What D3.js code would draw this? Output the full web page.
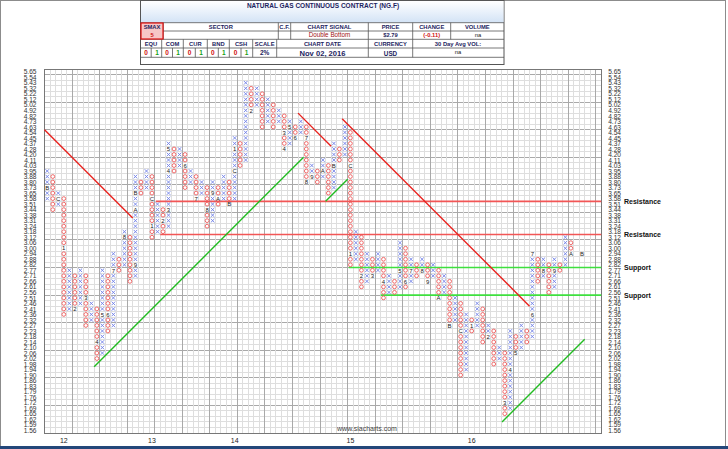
<!DOCTYPE html>
<html><head><meta charset="utf-8">
<script src="https://cdn.jsdelivr.net/npm/d3@7"></script>
<style>body{margin:0;background:#fff;} svg{display:block;font-family:"Liberation Sans",Arial,sans-serif;}</style>
</head><body><svg id="c" width="728" height="449"></svg>
<script>
// ---- data ----
const priceLabels = ["1.56","1.59","1.62","1.65","1.69","1.72","1.76","1.79","1.83","1.86","1.90","1.94","1.98","2.02","2.06","2.10","2.14","2.18","2.23","2.27","2.32","2.36","2.41","2.46","2.51","2.56","2.61","2.66","2.71","2.77","2.82","2.88","2.94","3.00","3.06","3.12","3.18","3.24","3.31","3.38","3.44","3.51","3.58","3.65","3.73","3.80","3.88","3.95","4.03","4.11","4.20","4.28","4.37","4.45","4.54","4.63","4.73","4.82","4.92","5.02","5.12","5.22","5.32","5.43","5.54","5.65"];
const colTypes = "XOXOXOXOXOXOXOXOXOXOXOXOXOXOXOXOXOXOXOXOXOXOXOXOXOXOXOXOXOXOXOXOXOXOXOXOXOXOXOXOXOXOXOXOXOXOXOXO".split("");
const colLow  = [42,40,41,21,22,22,23,19,20,13, 14,18,19,29,30,27,28,43,44,35, 36,36,37,47,48,44,45,42,43,37, 38,41,42,41,42,48,49,58,59,55, 56,55,56,51,52,53,54,45,46,45, 46,43,44,49,50,30,31,26,27,28, 29,24,25,25,26,26,27,28,29,27, 28,24,25,19,20,10,11,18,19,16, 17,12,13,3,4,14,15,16,17,27, 28,25,26,29,30,32,33,30];
const colHigh = [47,46,43,42,29,28,29,28,23,22, 29,28,32,31,36,35,46,45,47,46, 41,40,52,51,51,50,47,46,45,44, 45,44,46,45,53,52,63,62,62,61, 60,59,58,57,56,55,56,55,48,47, 49,48,52,51,55,54,36,35,32,31, 32,31,28,27,34,33,31,30,31,30, 30,29,28,27,24,23,21,20,23,22, 19,18,15,14,18,17,19,18,32,31, 31,30,31,30,35,34,41,40];
const monthMarks = [[0,44,"B"],[2,42,"C"],[3,33,"1"],[5,22,"2"],[7,24,"3"],[9,16,"4"],[10,21,"5"],[11,21,"6"],[12,29,"7"],[14,35,"8"],[16,30,"9"],[16,40,"A"],[16,43,"B"],[19,42,"C"],[19,37,"1"],[21,38,"2"],[22,40,"3"],[22,47,"4"],[22,51,"5"],[25,48,"6"],[27,42,"7"],[29,40,"8"],[30,43,"9"],[31,42,"A"],[33,41,"B"],[34,47,"C"],[34,51,"1"],[37,58,"2"],[43,54,"3"],[43,51,"4"],[44,55,"5"],[45,53,"6"],[47,53,"7"],[47,45,"8"],[48,46,"9"],[50,47,"A"],[52,48,"B"],[55,48,"C"],[55,32,"1"],[57,28,"2"],[59,28,"3"],[61,27,"4"],[64,29,"5"],[65,27,"6"],[66,29,"7"],[68,29,"8"],[69,27,"9"],[71,24,"A"],[73,19,"B"],[75,18,"C"],[77,19,"1"],[80,17,"2"],[83,5,"3"],[84,11,"4"],[85,14,"5"],[88,21,"6"],[88,32,"7"],[90,29,"8"],[92,29,"9"],[95,32,"A"],[97,32,"B"]];
const yearLabels = [[3,"12"],[19,"13"],[34,"14"],[55,"15"],[77,"16"]];
const trendLines = [[0,55,16,39,"red"],[9,12,47,50,"green"],[46,58,52,52,"red"],[51,42,55,46,"green"],[54,57,88,23,"red"],[83,2,98,17,"green"]];
const levelLines = [[42,20.2,"red","Resistance"],[36,21,"red","Resistance"],[30,55.2,"green","Support"],[25,61,"green","Support"]];

// ---- layout ----
const W=728,H=449, NC=101, NR=66;
const svg=d3.select("#c");
const x=d3.scaleLinear().domain([0,NC]).range([44.5,601.2]);
const y=d3.scaleLinear().domain([0,NR]).range([433,69]);

// frame
svg.append("rect").attr("x",0.5).attr("y",0.5).attr("width",725).attr("height",446).attr("fill","#fff").attr("stroke","#8c8c8c");
svg.append("rect").attr("x",0).attr("y",446).attr("width",W).attr("height",3).attr("fill","#23477a");

// grid
const g=svg.append("g");
d3.range(0,NR+1).forEach(r=>{
  g.append("line").attr("x1",x(0)).attr("x2",x(NC)).attr("y1",y(r)).attr("y2",y(r))
   .attr("stroke", r%5===0?"#a9a9a9":"#dedede").attr("stroke-width",1).attr("shape-rendering","crispEdges");
});
d3.range(0,NC+1).forEach(c=>{
  g.append("line").attr("y1",y(0)).attr("y2",y(NR)).attr("x1",x(c)).attr("x2",x(c))
   .attr("stroke", c%5===0?"#a9a9a9":"#dedede").attr("stroke-width",1).attr("shape-rendering","crispEdges");
});
svg.append("rect").attr("x",x(0)).attr("y",y(NR)).attr("width",x(NC)-x(0)).attr("height",y(0)-y(NR))
  .attr("fill","none").attr("stroke","#777").attr("shape-rendering","crispEdges");

// axes labels
const ticks=d3.range(NR).map(r=>r+0.5);
const fmt=d=>priceLabels[Math.floor(d)];
const axL=svg.append("g").attr("transform",`translate(${x(0)-5},0)`).call(d3.axisLeft(y).tickValues(ticks).tickFormat(fmt).tickSize(0));
const axR=svg.append("g").attr("transform",`translate(${x(NC)+4},0)`).call(d3.axisRight(y).tickValues(ticks).tickFormat(fmt).tickSize(0));
[axL,axR].forEach(a=>{a.select(".domain").remove();a.selectAll("text").attr("font-size",6.6).attr("fill","#333").attr("font-family","Liberation Sans, Arial");});

// year labels
svg.selectAll(".yr").data(yearLabels).enter().append("text").attr("x",d=>x(d[0]+0.5)).attr("y",443)
  .attr("text-anchor","middle").attr("font-size",7).attr("fill","#222").text(d=>d[1]);
svg.append("text").attr("x",367).attr("y",431).attr("text-anchor","middle").attr("font-size",7).attr("fill","#444").text("www.siacharts.com");

// level lines
levelLines.forEach(l=>{
  svg.append("line").attr("x1",x(l[1])).attr("x2",x(NC)).attr("y1",y(l[0])).attr("y2",y(l[0]))
    .attr("stroke",l[2]==="red"?"#f25656":"#3ee03e").attr("stroke-width",1.6);
  svg.append("text").attr("x",624).attr("y",y(l[0])+2.5).attr("font-size",7).attr("font-weight","bold").attr("fill","#111").text(l[3]);
});

// marks
const cols=colTypes.map((t,i)=>({t,i,lo:colLow[i],hi:colHigh[i]}));
const labelSet=new Set(monthMarks.map(m=>m[0]+"_"+m[1]));
const cells=[];
cols.forEach(c=>{ for(let r=c.lo;r<=c.hi;r++){ if(!labelSet.has(c.i+"_"+r)) cells.push({t:c.t,c:c.i,r}); } });
const mk=svg.append("g");
cells.filter(d=>d.t==="O").forEach(d=>{
  mk.append("circle").attr("cx",x(d.c+0.5)).attr("cy",y(d.r+0.5)).attr("r",1.9).attr("fill","none").attr("stroke","#ec5a5a").attr("stroke-width",0.9);
});
cells.filter(d=>d.t==="X").forEach(d=>{
  const cx=x(d.c+0.5), cy=y(d.r+0.5), s=1.8;
  mk.append("path").attr("d",`M${cx-s},${cy-s}L${cx+s},${cy+s}M${cx-s},${cy+s}L${cx+s},${cy-s}`).attr("stroke","#6f80e6").attr("stroke-width",0.9);
});
svg.selectAll(".mm").data(monthMarks).enter().append("text").attr("x",d=>x(d[0]+0.5)).attr("y",d=>y(d[1]+0.5)+2.2)
  .attr("text-anchor","middle").attr("font-size",6).attr("fill","#222").text(d=>d[2]);

// trend lines
trendLines.forEach(t=>{
  svg.append("line").attr("x1",x(t[0])).attr("y1",y(t[1])).attr("x2",x(t[2])).attr("y2",y(t[3]))
   .attr("stroke",t[4]==="red"?"#e8221e":"#22bb22").attr("stroke-width",1.4);
});

// header
const hd=svg.append("g");
const defs=svg.append("defs");
const gr=defs.append("linearGradient").attr("id","tg").attr("x1",0).attr("y1",0).attr("x2",0).attr("y2",1);
gr.append("stop").attr("offset","0%").attr("stop-color","#ffffff");
gr.append("stop").attr("offset","100%").attr("stop-color","#d3e3f6");
hd.append("rect").attr("x",140.5).attr("y",0.5).attr("width",363.5).attr("height",64).attr("fill","#fff").attr("stroke","#555");
hd.append("rect").attr("x",141).attr("y",1).attr("width",362.5).attr("height",21.7).attr("fill","url(#tg)");
hd.append("text").attr("x",323).attr("y",8).attr("text-anchor","middle").attr("font-size",6.5).attr("font-weight","bold").attr("fill","#1c2360").text("NATURAL GAS CONTINUOUS CONTRACT (NG.F)");
const hl=(x1,y1,x2,y2)=>hd.append("line").attr("x1",x1).attr("y1",y1).attr("x2",x2).attr("y2",y2).attr("stroke","#555").attr("stroke-width",0.8);
[22.7,31,39.3,48,57.3].forEach(yy=>hl(140.5,yy,504,yy));
[163.3,278.3,290.7,368.3,412.7,450.7].forEach(xx=>hl(xx,22.7,xx,39.3));
[161.7,183.3,207.3,229.3,252.7,276.7,368.3,412.7].forEach(xx=>hl(xx,39.3,xx,57.3));
[151.2,172.5,195.3,218.3,241].forEach(xx=>hl(xx,48,xx,57.3));
hd.append("rect").attr("x",141).attr("y",23).attr("width",22).attr("height",16).attr("fill","#f7c6c6").attr("stroke","#e01010").attr("stroke-width",1.2);
const ht=(tx,ty,s,opt={})=>hd.append("text").attr("x",tx).attr("y",ty).attr("text-anchor","middle").attr("font-size",opt.size||5.8)
  .attr("font-weight",opt.w||"bold").attr("fill",opt.c||"#1c2360").text(s);
ht(152,29,"SMAX");ht(220.8,29,"SECTOR");ht(284.5,29,"C.F.");ht(329.5,29,"CHART SIGNAL");ht(390.5,29,"PRICE");ht(431.7,29,"CHANGE");ht(477.3,29,"VOLUME");
ht(152,37.3,"5",{c:"#d01010"});ht(329.5,37.3,"Double Bottom",{c:"#a01010",size:6.3,w:"normal"});ht(390.5,37.3,"$2.79",{c:"#1c2360"});ht(431.7,37.3,"(-0.11)",{c:"#d01010"});ht(478,37,"na",{c:"#111",w:"normal"});
ht(151,45.8,"EQU");ht(172.5,45.8,"COM");ht(195.3,45.8,"CUR");ht(218.3,45.8,"BND");ht(241,45.8,"CSH");ht(264.7,45.8,"SCALE");
ht(322.5,45.8,"CHART DATE");ht(390.5,45.8,"CURRENCY");ht(458,45.8,"30 Day Avg VOL:");
[[146,157],[167,178],[189.5,201],[212.8,223.8],[235.5,246.5]].forEach(p=>{ht(p[0],55.3,"0",{c:"#d01010",size:6.5});ht(p[1],55.3,"1",{c:"#16a016",size:6.5});});
ht(264.7,55.3,"2%",{size:6.5});ht(322.5,55.8,"Nov 02, 2016",{size:7.6});ht(390.5,55.5,"USD",{size:6.3});ht(458,54,"na",{c:"#111",w:"normal"});
</script></body></html>
